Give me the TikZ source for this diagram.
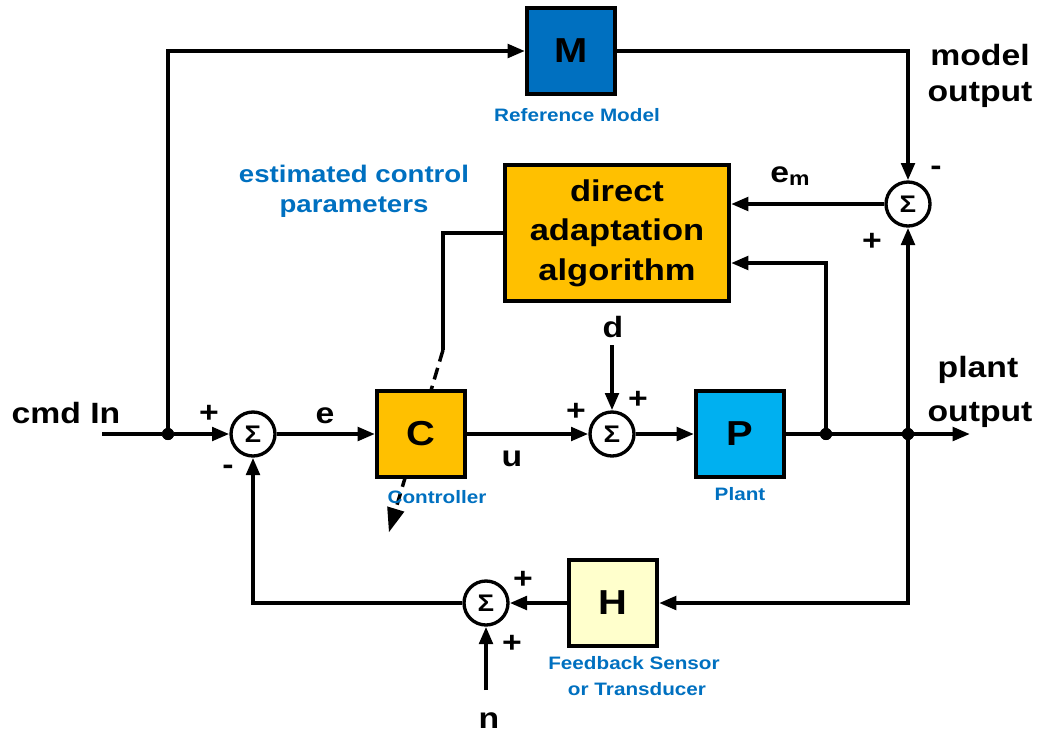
\documentclass[tikz,border=0pt]{standalone}
\usepackage{fontspec}
\setmainfont{Liberation Sans}[FakeStretch=1.15]
\usetikzlibrary{arrows.meta,calc}
\definecolor{labblue}{RGB}{0,112,192}
\definecolor{mblue}{RGB}{0,112,192}
\definecolor{pblue}{RGB}{0,176,240}
\definecolor{orng}{RGB}{255,192,0}
\definecolor{lyel}{RGB}{255,255,204}
\tikzset{
  blk/.style={draw, line width=3pt, minimum width=66pt, minimum height=65pt, inner sep=0pt,
    font=\bfseries\fontsize{26}{26}\selectfont},
  sumn/.style={draw, circle, line width=2.5pt, minimum size=33pt, inner sep=0pt, fill=white,
    font=\bfseries\fontsize{18}{18}\selectfont},
  wire/.style={line width=3pt},
  arr/.style={line width=3pt, -{Triangle[length=13pt,width=10pt]}},
  big/.style={font=\bfseries\fontsize{22}{26}\selectfont, anchor=base, inner sep=0pt},
  sign/.style={font=\bfseries\fontsize{22}{22}\selectfont, inner sep=0pt},
  bluelab/.style={text=labblue, font=\bfseries\fontsize{13.5}{16}\selectfont, anchor=base, inner sep=0pt},
  dot/.style={circle, fill=black, inner sep=0pt, minimum size=9pt}
}
\begin{document}
\begin{tikzpicture}[x=0.75pt,y=-0.75pt]
\useasboundingbox (0,0) rectangle (1037,733);
% coordinates
\coordinate (in) at (102,434);
\coordinate (out) at (970,434);
\coordinate (dtop) at (612,345);
\coordinate (nbot) at (486,690);
\coordinate (dashA) at (443,350);
\coordinate (dashB) at (389,532);
\coordinate (dashC) at (395.8,509.0);
\coordinate (tipL) at (404.4,511.6);
\coordinate (tipR) at (387.2,506.4);
% dashed adaptation arrow (behind controller)
\draw[line width=2.6pt, dash pattern=on 9pt off 5pt] (dashA) -- (dashC);
\fill (dashB) -- (tipL) -- (tipR) -- cycle;
% blocks
\node[blk, fill=mblue] (M) at (571,51) {M};
\node[blk, fill=orng, minimum width=168pt, minimum height=102pt, align=center,
  font=\bfseries\fontsize{22.5}{29.5}\selectfont] (A) at (617,233) {direct\\adaptation\\algorithm};
\node[blk, fill=orng] (C) at (421,434) {C};
\node[blk, fill=pblue] (P) at (740,434) {P};
\node[blk, fill=lyel] (H) at (613,603) {H};
% summing junctions
\node[sumn] (S1) at (253,434) {Σ};
\node[sumn] (S2) at (612,434) {Σ};
\node[sumn] (SM) at (908,204) {Σ};
\node[sumn] (S3) at (486,603) {Σ};
% junction dots
\node[dot] (J1) at (168,434) {};
\node[dot] (J2) at (826,434) {};
\node[dot] (J3) at (908,434) {};
% connectors
\draw[wire] (in) -- (J1);
\draw[arr] (J1) -- (S1);
\draw[arr] (J1.center) |- (M.west);
\draw[arr] (M.east) -| (SM.north);
\draw[arr] (SM.west) -- (SM.west -| A.east);
\draw[arr] (J2.center) |- ($(A.east)+(0,30)$);
\draw[arr] (J3.center) -- (SM.south);
\draw[arr] (S1) -- (C);
\draw[arr] (C) -- (S2);
\draw[arr] (S2) -- (P);
\draw[wire] (P.east) -- (J3.center);
\draw[arr] (J3.center) -- (out);
\draw[arr] (dtop) -- (S2.north);
\draw[arr] (J3.center) |- (H.east);
\draw[arr] (H.west) -- (S3.east);
\draw[arr] (S3.west) -| (S1.south);
\draw[arr] (nbot) -- (S3.south);
\draw[wire] (A.west) -| (dashA);
% redraw dots on top
\fill (J1) circle (4.5pt);
\fill (J2) circle (4.5pt);
\fill (J3) circle (4.5pt);
% labels
\node[big] (tin) at (66,423) {cmd In};
\node[big] (tmo1) at (980,65) {model};
\node[big] (tmo2) at (980,101) {output};
\node[big] (tpo1) at (978,377) {plant};
\node[big] (tpo2) at (980,421) {output};
\node[big] (te) at (325,423) {e};
\node[big] (tu) at (512,466) {u};
\node[big] (td) at (613,337) {d};
\node[big] (tn) at (489,728) {n};
\node[big] (tem) at (790,182) {e\raisebox{-0.25ex}{\fontsize{15}{15}\selectfont m}};
% signs
\node[sign] (p1) at (209,414) {+};
\node[sign] (m1) at (228,470) {-};
\node[sign] (p2) at (576,412) {+};
\node[sign] (p3) at (638,400) {+};
\node[sign] (m4) at (936,171) {-};
\node[sign] (p4) at (872,242) {+};
\node[sign] (p5) at (523,580) {+};
\node[sign] (p6) at (512,644) {+};
% blue labels
\node[bluelab] (lM) at (577,121) {Reference Model};
\node[bluelab] (lC) at (437,503) {Controller};
\node[bluelab] (lP) at (740,500) {Plant};
\node[bluelab] (lH1) at (634,669) {Feedback Sensor};
\node[bluelab] (lH2) at (637,695) {or Transducer};
\node[bluelab, font=\bfseries\fontsize{18}{22}\selectfont] (le1) at (354,182) {estimated control};
\node[bluelab, font=\bfseries\fontsize{18}{22}\selectfont] (le2) at (354,212) {parameters};
\end{tikzpicture}
\end{document}
